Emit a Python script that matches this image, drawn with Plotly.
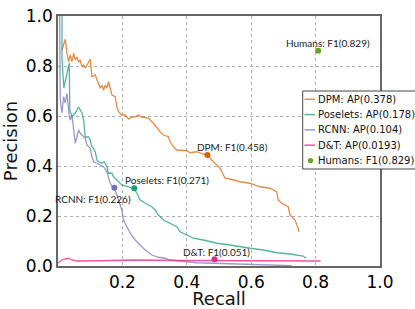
import plotly.graph_objects as go

# ---- data ----
dpm_recall = [0.0124, 0.0226, 0.0279, 0.0329, 0.0381, 0.0434, 0.0484, 0.0536, 0.0589, 0.0639, 0.0691, 0.0744, 0.0794, 0.0847,
              0.1002, 0.1054, 0.1157, 0.1209, 0.1312, 0.1364, 0.1414, 0.1467, 0.1519, 0.1569, 0.1622, 0.1674, 0.1777, 0.1829,
              0.1879, 0.1984, 0.2087, 0.2189, 0.2295, 0.2397, 0.2499, 0.2605, 0.2707, 0.2809, 0.2964, 0.3070, 0.3172, 0.3274,
              0.3429, 0.3482, 0.3584, 0.3690, 0.4000, 0.4102, 0.4310, 0.4505, 0.4639, 0.4825, 0.5033, 0.5188, 0.5343, 0.5653,
              0.5963, 0.6273, 0.6583, 0.6791, 0.6840, 0.6946, 0.7150, 0.7203, 0.7358, 0.7460, 0.7482]
dpm_precision = [0.864, 0.907, 0.851, 0.817, 0.844, 0.817, 0.851, 0.824, 0.836, 0.816, 0.824, 0.797, 0.804, 0.792,
                 0.827, 0.757, 0.764, 0.744, 0.711, 0.724, 0.704, 0.724, 0.711, 0.737, 0.711, 0.684, 0.677, 0.637,
                 0.617, 0.604, 0.604, 0.587, 0.596, 0.597, 0.604, 0.595, 0.594, 0.591, 0.571, 0.551, 0.537, 0.524,
                 0.517, 0.497, 0.477, 0.464, 0.461, 0.453, 0.457, 0.448, 0.444, 0.417, 0.391, 0.351, 0.348, 0.337,
                 0.331, 0.317, 0.311, 0.297, 0.264, 0.251, 0.237, 0.204, 0.184, 0.151, 0.137]

poselets_recall = [0.0124, 0.0124, 0.0180, 0.0350, 0.0366, 0.0434, 0.0536, 0.0639, 0.0691, 0.0744, 0.0794, 0.0847, 0.0949,
                   0.1002, 0.1054, 0.1104, 0.1157, 0.1209, 0.1259, 0.1364, 0.1436, 0.1467, 0.1519, 0.1569, 0.1674, 0.1724,
                   0.1829, 0.1984, 0.2189, 0.2375, 0.2450, 0.2552, 0.2707, 0.2915, 0.3017, 0.3119, 0.3274, 0.3482, 0.3690,
                   0.3792, 0.4000, 0.4205, 0.4515, 0.4723, 0.4930, 0.5343, 0.5653, 0.5963, 0.6375, 0.6791, 0.7203, 0.7616, 0.7705]
poselets_precision = [1.0, 0.832, 0.712, 0.812, 0.624, 0.597, 0.612, 0.636, 0.624, 0.612, 0.584, 0.516, 0.516,
                      0.504, 0.476, 0.471, 0.456, 0.424, 0.417, 0.411, 0.417, 0.411, 0.397, 0.371, 0.371, 0.357,
                      0.344, 0.324, 0.317, 0.307, 0.291, 0.264, 0.251, 0.237, 0.224, 0.204, 0.184, 0.171, 0.157,
                      0.137, 0.124, 0.111, 0.104, 0.097, 0.091, 0.084, 0.077, 0.071, 0.064, 0.053, 0.048, 0.040, 0.031]

rcnn_recall = [0.005, 0.005, 0.0071, 0.0124, 0.0174, 0.0226, 0.0279, 0.0350, 0.0381, 0.0434, 0.0484, 0.0536, 0.0589, 0.0639,
               0.0691, 0.0744, 0.0794, 0.0847, 0.0899, 0.0949, 0.1002, 0.1054, 0.1104, 0.1209, 0.1312, 0.1414, 0.1519,
               0.1569, 0.1622, 0.1724, 0.1777, 0.1879, 0.1984, 0.2034, 0.2140, 0.2242, 0.2397, 0.2552, 0.2707, 0.2915,
               0.3119, 0.3327, 0.3482, 0.4310, 0.5343, 0.6375, 0.7256]
rcnn_precision = [1.0, 0.704, 0.664, 0.612, 0.677, 0.652, 0.691, 0.597, 0.584, 0.604, 0.557, 0.491, 0.517, 0.544,
                  0.531, 0.524, 0.517, 0.511, 0.484, 0.477, 0.471, 0.437, 0.417, 0.411, 0.404, 0.397, 0.377,
                  0.357, 0.331, 0.311, 0.304, 0.264, 0.224, 0.184, 0.157, 0.131, 0.104, 0.084, 0.064, 0.044,
                  0.035, 0.031, 0.024, 0.013, 0.008, 0.004, 0.001]

dt_recall = [0.0, 0.0124, 0.0226, 0.0329, 0.0434, 0.0589, 0.1312, 0.2344, 0.379, 0.596, 0.751, 0.8155]
dt_precision = [0.012, 0.024, 0.028, 0.031, 0.024, 0.020, 0.021, 0.024, 0.022, 0.022, 0.020, 0.020]

methods = ["DPM", "Poselets", "RCNN", "D&T"]
ap_values = ["0.378", "0.178", "0.104", "0.0193"]
f1_labels = ["0.458", "0.271", "0.226", "0.051"]
f1_recall = [0.464, 0.237, 0.175, 0.486]
f1_precision = [0.444, 0.311, 0.313, 0.027]
label_x = [0.542, 0.340, 0.109, 0.491]
label_y = [0.477, 0.344, 0.267, 0.057]

human_recall = [0.808]
human_precision = [0.861]
human_f1 = "0.829"
human_label_xy = (0.84, 0.892)

x_ticks = [0.2, 0.4, 0.6, 0.8, 1.0]
y_ticks = [0.0, 0.2, 0.4, 0.6, 0.8, 1.0]

line_colors = ["rgba(217,95,2,0.72)", "rgba(27,158,119,0.75)", "rgba(117,112,179,0.72)", "rgba(231,41,138,0.8)"]
point_colors = ["#d95f02", "#1b9e77", "#7570b3", "#e7298a"]
human_color = "#66a61e"

curves = [(dpm_recall, dpm_precision), (poselets_recall, poselets_precision),
          (rcnn_recall, rcnn_precision), (dt_recall, dt_precision)]

W, H = 415, 309
ML, MR, MT, MB = 58, 35, 16, 43
PW, PH = W - ML - MR, H - MT - MB


def px_to_paper(px, py):
    return (px - ML) / PW, (H - MB - py) / PH


fig = go.Figure()
for i, (r, p) in enumerate(curves):
    fig.add_trace(go.Scatter(x=r, y=p, mode="lines",
                             line=dict(color=line_colors[i], width=1.3),
                             name=f"{methods[i]}: AP({ap_values[i]})", showlegend=False))
fig.add_trace(go.Scatter(x=human_recall, y=human_precision, mode="markers",
                         marker=dict(color=human_color, size=6),
                         name=f"Humans: F1({human_f1})", showlegend=False))
for i in range(4):
    fig.add_trace(go.Scatter(x=[f1_recall[i]], y=[f1_precision[i]], mode="markers",
                             marker=dict(color=point_colors[i], size=6), showlegend=False))
    fig.add_annotation(x=label_x[i], y=label_y[i], text=f"{methods[i]}: F1({f1_labels[i]})",
                       showarrow=False, font=dict(family="Lato", size=10, color="#222"))
fig.add_annotation(x=human_label_xy[0], y=human_label_xy[1], text=f"Humans: F1({human_f1})",
                   showarrow=False, font=dict(family="Lato", size=10, color="#222"))

# ---- legend box (drawn as shapes + text, matplotlib style) ----
x0, y0 = px_to_paper(302.7, 91)
x1, y1 = px_to_paper(430, 169)
fig.add_shape(type="rect", xref="paper", yref="paper", x0=x0, y0=y1, x1=x1, y1=y0,
              line=dict(color="#444", width=1), fillcolor="white", layer="above")
legend_texts = [f"{m}: AP({a})" for m, a in zip(methods, ap_values)] + [f"Humans: F1({human_f1})"]
row_y = [99.3, 114.6, 129.9, 145.2, 160.5]
for i, txt in enumerate(legend_texts):
    lx0, ly = px_to_paper(304.5, row_y[i])
    lx1, _ = px_to_paper(315, row_y[i])
    if i < 4:
        fig.add_shape(type="line", xref="paper", yref="paper", x0=lx0, x1=lx1, y0=ly, y1=ly,
                      line=dict(color=line_colors[i], width=1.5), layer="above")
    else:
        cx, _ = px_to_paper(310.5, row_y[i])
        fig.add_shape(type="circle", xref="paper", yref="paper",
                      x0=cx - 2.6 / PW, x1=cx + 2.6 / PW, y0=ly - 2.6 / PH, y1=ly + 2.6 / PH,
                      line=dict(color=human_color, width=0), fillcolor=human_color, layer="above")
    tx, _ = px_to_paper(316, row_y[i])
    fig.add_annotation(xref="paper", yref="paper", x=tx, y=ly, xanchor="left", yanchor="middle",
                       text=txt, showarrow=False,
                       font=dict(family="DejaVu Sans", size=10, color="#111"))

axis_common = dict(range=[0, 1], showline=True, linecolor="#666", linewidth=1.5, mirror=True,
                   showgrid=True, gridcolor="#b0b0b0", griddash="dot", gridwidth=1, zeroline=False,
                   ticks="", tickfont=dict(family="DejaVu Sans", size=17, color="#000"),
                   tickformat=".1f")
fig.update_xaxes(**axis_common, tickvals=x_ticks,
                 title=dict(text="Recall", font=dict(family="DejaVu Sans", size=18, color="#111"), standoff=3))
fig.update_yaxes(**axis_common, tickvals=y_ticks,
                 title=dict(text="Precision", font=dict(family="DejaVu Sans", size=18, color="#111"), standoff=5))

fig.update_layout(
    width=W, height=H,
    margin=dict(l=ML, r=MR, t=MT, b=MB, autoexpand=False),
    paper_bgcolor="white", plot_bgcolor="white",
    showlegend=False,
)

fig.write_html("out.html", config={"displayModeBar": False},
               post_script="document.body.style.margin='0';")
